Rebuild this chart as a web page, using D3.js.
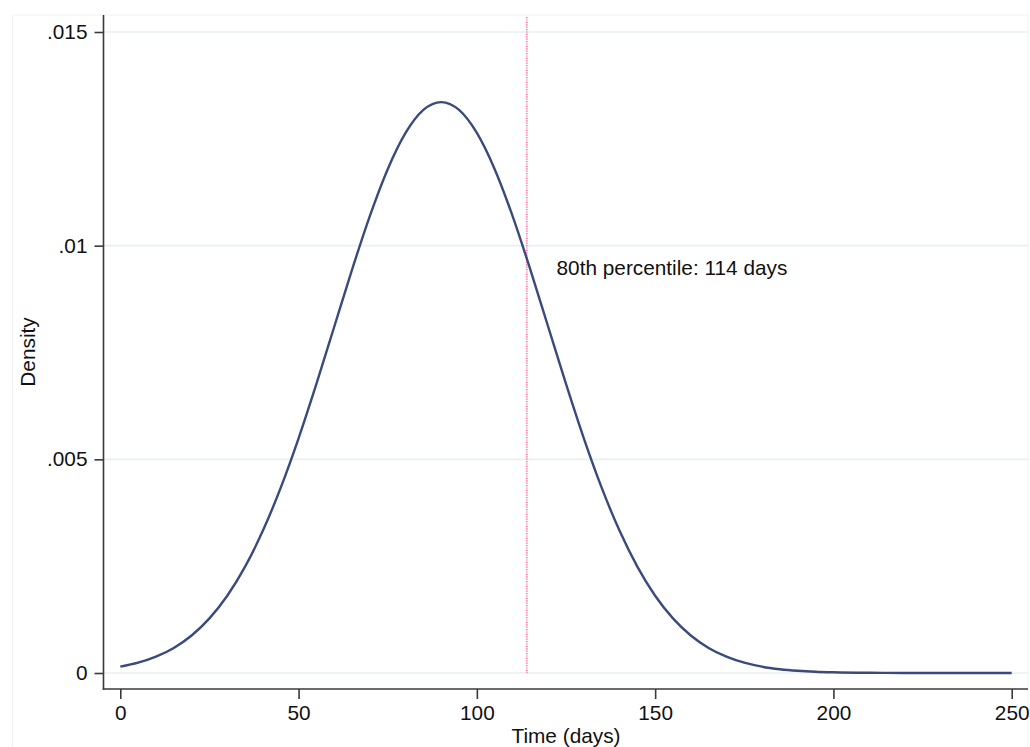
<!DOCTYPE html>
<html>
<head>
<meta charset="utf-8">
<script src="https://cdn.jsdelivr.net/npm/d3@7"></script>
<style>
  html, body { margin: 0; padding: 0; background: #fff; }
  svg { display: block; font-family: "Liberation Sans", Arial, sans-serif; }
</style>
</head>
<body>
<div id="chart"></div>
<script>
// Density readings, every 5 days
var days = [0, 5, 10, 15, 20, 25, 30, 35, 40, 45, 50, 55, 60, 65, 70, 75, 80, 85, 90,
            95, 100, 105, 110, 115, 120, 125, 130, 135, 140, 145, 150, 155, 160, 165, 170,
            175, 180, 185, 190, 195, 200, 210, 220, 230, 240, 250];
var density = [0.000148, 0.000241, 0.000382, 0.000587, 0.000878, 0.001278, 0.001808, 0.002489,
               0.003332, 0.004338, 0.005492, 0.006764, 0.008103, 0.009440, 0.010697, 0.011790,
               0.012638, 0.013176, 0.013360, 0.013176, 0.012638, 0.011790, 0.010697, 0.009440,
               0.008103, 0.006764, 0.005492, 0.004338, 0.003332, 0.002489, 0.001808, 0.001278,
               0.000878, 0.000587, 0.000382, 0.000241, 0.000148, 0.000089, 0.000052, 0.000029,
               0.000016, 0.0000045, 0.000001, 0, 0, 0];

var xTicks = [0, 50, 100, 150, 200, 250];
var yTicks = [0, 0.005, 0.01, 0.015];
var yTickLabels = ['0', '.005', '.01', '.015'];
var percentile80 = 114;
var noteText = '80th percentile: 114 days';

var width = 1030, height = 747;
var fontSize = '20.8px';

var svg = d3.select('#chart').append('svg')
    .attr('width', width)
    .attr('height', height);

var x = d3.scaleLinear().domain([0, 250]).range([120.3, 1011.7]);
var y = d3.scaleLinear().domain([0, 0.015]).range([673, 32]);

var axisX = 103.5, axisY = 689, rightEdge = 1028, topEdge = 15;

// faint plot region outline
svg.append('rect')
    .attr('x', 12.5).attr('y', topEdge)
    .attr('width', rightEdge - 12.5).attr('height', height)
    .attr('fill', 'none')
    .attr('stroke', '#eef2f5')
    .attr('stroke-width', 1);

// gridlines
svg.append('g')
    .selectAll('line')
    .data(yTicks)
    .join('line')
    .attr('x1', axisX).attr('x2', rightEdge)
    .attr('y1', function (d) { return y(d); })
    .attr('y2', function (d) { return y(d); })
    .attr('stroke', '#e9eff3')
    .attr('stroke-width', 1.6);

// y axis
var gy = svg.append('g')
    .attr('transform', 'translate(' + axisX + ',0)')
    .call(d3.axisLeft(y)
        .tickValues(yTicks)
        .tickFormat(function (d, i) { return yTickLabels[i]; })
        .tickSize(9)
        .tickPadding(7));
gy.select('.domain').remove();
gy.selectAll('.tick line').attr('stroke', '#3a3a3a').attr('stroke-width', 1.6);
gy.selectAll('.tick text')
    .attr('fill', '#111')
    .style('font-size', fontSize)
    .style('font-family', '"Liberation Sans", Arial, sans-serif');

// x axis
var gx = svg.append('g')
    .attr('transform', 'translate(0,' + axisY + ')')
    .call(d3.axisBottom(x)
        .tickValues(xTicks)
        .tickFormat(d3.format('d'))
        .tickSize(10)
        .tickPadding(6));
gx.select('.domain').remove();
gx.selectAll('.tick line').attr('stroke', '#3a3a3a').attr('stroke-width', 1.6);
gx.selectAll('.tick text')
    .attr('fill', '#111')
    .style('font-size', fontSize)
    .style('font-family', '"Liberation Sans", Arial, sans-serif');

// axis lines
svg.append('line')
    .attr('x1', axisX).attr('x2', axisX)
    .attr('y1', topEdge).attr('y2', axisY + 0.8)
    .attr('stroke', '#3a3a3a').attr('stroke-width', 1.6);
svg.append('line')
    .attr('x1', axisX - 0.8).attr('x2', rightEdge)
    .attr('y1', axisY).attr('y2', axisY)
    .attr('stroke', '#3a3a3a').attr('stroke-width', 1.6);

// vertical percentile line
svg.append('line')
    .attr('x1', x(percentile80)).attr('x2', x(percentile80))
    .attr('y1', 17).attr('y2', y(0))
    .attr('stroke', '#ff74ac')
    .attr('stroke-width', 1.8)
    .attr('stroke-dasharray', '1.2,1.2');

// density curve
var points = days.map(function (d, i) { return [d, density[i]]; });
var line = d3.line()
    .x(function (d) { return x(d[0]); })
    .y(function (d) { return y(d[1]); })
    .curve(d3.curveMonotoneX);

svg.append('path')
    .datum(points)
    .attr('d', line)
    .attr('fill', 'none')
    .attr('stroke', '#3b4a7c')
    .attr('stroke-width', 2.4);

// annotation
svg.append('text')
    .attr('x', 556.5).attr('y', 275)
    .attr('fill', '#111')
    .style('font-size', fontSize)
    .text(noteText);

// axis titles
svg.append('text')
    .attr('x', 566).attr('y', 743)
    .attr('text-anchor', 'middle')
    .attr('fill', '#111')
    .style('font-size', fontSize)
    .text('Time (days)');

svg.append('text')
    .attr('transform', 'translate(35,352) rotate(-90)')
    .attr('text-anchor', 'middle')
    .attr('fill', '#111')
    .style('font-size', fontSize)
    .text('Density');
</script>
</body>
</html>
